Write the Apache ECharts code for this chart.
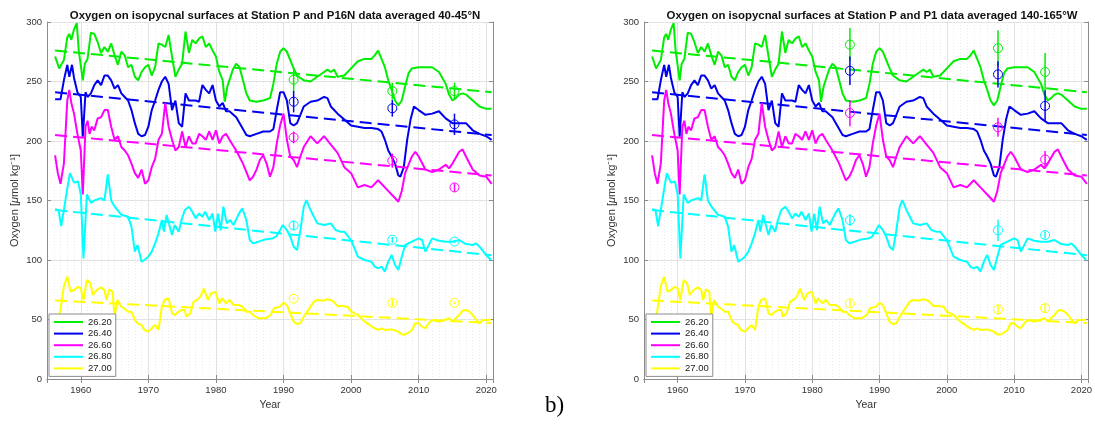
<!DOCTYPE html>
<html>
<head>
<meta charset="utf-8">
<script src="https://cdn.jsdelivr.net/npm/echarts@6/dist/echarts.min.js"></script>
<style>
  html, body { margin: 0; padding: 0; background: #fff; }
  #chart { width: 1095px; height: 435px; }
</style>
</head>
<body>
<div id="chart"></div>
<script>
// isopycnal levels and their colours
const levels = ['26.20', '26.40', '26.60', '26.80', '27.00'];
const levelColors = ['#00ee00', '#0000ee', '#ff00ff', '#00ffff', '#ffff00'];

// Station P smoothed oxygen, [year, umol/kg]
const o2_2620 = [[1956.2,271],[1956.8,261],[1957.5,268],[1958,287],[1958.3,290],[1958.6,285],[1959,294],[1959.4,299],[1959.7,276],[1960.3,251],[1960.6,265],[1961,269],[1961.5,291],[1962,290],[1962.5,283],[1963,274],[1963.5,279],[1964,275],[1964.5,282],[1965,272],[1965.5,264],[1966,275],[1966.5,272],[1967,262],[1967.5,264],[1968,254],[1968.5,251],[1969,258],[1969.5,262],[1970,264],[1970.5,255],[1971,262],[1971.5,282],[1972,281],[1972.5,279],[1973,289],[1973.5,271],[1974,254],[1974.5,260],[1975,265],[1975.5,292],[1976,274],[1976.5,285],[1977,282],[1977.5,286],[1978,288],[1978.5,279],[1979,282],[1979.5,276],[1980,271],[1980.5,258],[1981,251],[1981.3,233],[1981.7,246],[1982.5,260],[1983,265],[1983.5,262],[1984,251],[1984.5,240],[1985,234],[1986,233],[1987,234],[1988,236],[1988.5,248],[1989,265],[1989.5,275],[1990,278],[1990.5,275],[1991,268],[1991.5,261],[1992,255],[1993,251],[1994,250],[1995,254],[1996,258],[1996.5,260],[1997,258],[1997.5,260],[1998,254],[1999,255],[2000,261],[2001,267],[2002,269],[2003,269],[2003.5,272],[2004,276],[2004.5,269],[2005,262],[2005.5,251],[2006,243],[2006.5,234],[2007,230],[2007.5,234],[2008,246],[2008.5,257],[2009,261],[2010,262],[2011,262],[2012,262],[2013,258],[2014,248],[2014.5,239],[2015,234],[2015.5,236],[2016,239],[2016.5,240],[2017,239],[2018,234],[2019,229],[2020,227],[2020.8,227]];
const o2_2640 = [[1956.2,235],[1957,235],[1957.5,251],[1958,264],[1958.3,254],[1958.7,264],[1959,253],[1959.5,241],[1960,237],[1960.3,203.6],[1960.7,241],[1961,237],[1961.5,240],[1962,247],[1962.5,251],[1963,247],[1963.5,255],[1964,255],[1964.5,251],[1965,244],[1965.5,247],[1966,240],[1966.5,237],[1967,234],[1967.5,226],[1968,215],[1968.5,206],[1969,204],[1969.5,205],[1970,212],[1970.5,226],[1971,234],[1971.5,243],[1972,250],[1972.5,254],[1973,248],[1973.5,226],[1974,234],[1974.5,215],[1975,212],[1975.5,240],[1976,234],[1976.5,234],[1977,234],[1977.5,233],[1978,247],[1978.5,243],[1979,240],[1979.5,247],[1980,234],[1980.5,229],[1981,232],[1981.5,225],[1982,225],[1983,220],[1984,210],[1984.5,205],[1985,204],[1986,206],[1987,208],[1988,208],[1988.5,210],[1989,226],[1989.5,241],[1990,241],[1990.5,234],[1991,215],[1991.5,213],[1992,215],[1992.5,222],[1993,229],[1994,233],[1995,234],[1996,237],[1996.5,236],[1997,229],[1998,223],[1999,218],[2000,213],[2001,212],[2002,211],[2003,211],[2004,210],[2004.5,208],[2005,201],[2005.5,192],[2006,187],[2006.5,181],[2007,171],[2007.3,170],[2007.8,178],[2008.3,201],[2008.8,218],[2009.3,229],[2010,226],[2011,222],[2012,223],[2013,225],[2014,219],[2015,215],[2016,215],[2017,215],[2018,209],[2019,206],[2020,204],[2020.8,201]];
const o2_2660 = [[1956.2,188],[1956.6,173],[1957,164],[1957.5,181],[1958,234],[1958.3,243],[1958.6,232],[1959,223],[1959.5,206],[1960,192],[1960.3,155],[1960.7,212],[1961,217],[1961.3,206],[1961.6,212],[1962,209],[1962.5,219],[1963,220],[1963.5,226],[1964,226],[1964.5,212],[1965,201],[1965.5,204],[1966,195],[1966.5,192],[1967,188],[1967.5,181],[1968,173],[1968.5,169],[1969,176],[1969.5,164],[1970,167],[1970.5,178],[1971,185],[1971.5,201],[1972,206],[1972.5,232],[1973,212],[1973.5,201],[1974,192],[1974.5,195],[1975,208],[1975.5,195],[1976,204],[1976.5,198],[1977,198],[1977.5,206],[1978,204],[1978.5,201],[1979,208],[1979.5,201],[1980,209],[1980.5,198],[1981,204],[1981.5,206],[1982,201],[1983,192],[1984,181],[1985,167],[1985.5,170],[1986,176],[1986.5,184],[1987,188],[1987.5,181],[1988,170],[1988.5,178],[1989,198],[1989.5,213],[1990,223],[1990.5,201],[1991,187],[1991.5,184],[1992,178],[1992.5,187],[1993,195],[1994,204],[1995,198],[1996,204],[1997,197],[1998,190],[1999,178],[2000,173],[2001,161],[2002,163],[2003,161],[2004,167],[2005,161],[2006,155],[2007,149],[2007.5,158],[2008,173],[2009,187],[2009.5,191],[2010,187],[2011,176],[2012,174],[2013,176],[2014,180],[2014.5,177],[2015,181],[2016,191],[2016.5,193],[2017,187],[2018,176],[2019,171],[2020,170],[2020.8,164]];
const o2_2680 = [[1956.2,142.6],[1956.7,142],[1957.1,128.5],[1957.5,142],[1958,160],[1958.4,173],[1959,165],[1959.6,166],[1960,155],[1960.4,101.4],[1960.9,155],[1961.5,148],[1962,150],[1963,152],[1963.5,150],[1964,172],[1964.5,150],[1965,145],[1966,138],[1967,136.4],[1967.5,128],[1968,107],[1968.4,112.6],[1969,98.6],[1969.4,100],[1970,102.8],[1970.5,107],[1971,114],[1971.5,122.4],[1972,133.6],[1972.3,123.8],[1972.7,137.8],[1973.5,121],[1973.9,129.4],[1974.5,123.8],[1974.9,133.6],[1975.4,142],[1976,144.8],[1976.5,140.6],[1977,135],[1977.5,139],[1978,136.4],[1978.4,140.6],[1979,133.6],[1979.5,139.2],[1979.9,123.8],[1980.3,139],[1980.7,125],[1981.1,144.8],[1981.6,130.8],[1982.1,133.6],[1982.6,129.4],[1983.4,139],[1983.9,143.4],[1984.5,133.6],[1985,116.8],[1985.5,114],[1986.3,115.4],[1987.3,117.3],[1988.3,118],[1988.9,119.6],[1989.5,125.2],[1989.9,129.4],[1990.5,125.2],[1991,119.6],[1991.5,111.2],[1992,108.4],[1992.5,125],[1993,144.8],[1993.4,150.4],[1994,142],[1994.5,136.4],[1995,130.8],[1996,129.4],[1997,130.8],[1997.7,125.2],[1998.4,123.8],[1999,123.8],[2000,116.8],[2001,102.8],[2002,100],[2003,98.6],[2003.5,94.4],[2004,93],[2004.5,94.4],[2005,90.2],[2005.5,98.6],[2006,104.2],[2006.5,95.8],[2007,91.6],[2007.5,102.8],[2008,112.6],[2009,115.4],[2010,118.2],[2010.5,116.8],[2011,107],[2012,118.2],[2013,116.2],[2014,115.4],[2015,115.4],[2016,116.8],[2017,113.4],[2018,112.6],[2018.5,114],[2019,111.2],[2020,104.2],[2020.7,100]];
const o2_2700 = [[1956.2,50],[1956.7,52],[1957,58],[1957.5,78],[1958,86],[1958.5,73.4],[1959,74.8],[1959.6,77.6],[1960,76],[1960.4,66.4],[1960.9,83.2],[1961.4,80.4],[1961.8,70.6],[1962.4,74.8],[1963,77],[1963.5,74.8],[1963.8,66.4],[1964.2,75.3],[1964.7,73.4],[1965,52.4],[1965.4,66.4],[1966,60.8],[1966.4,59.4],[1967,56.6],[1967.5,56.6],[1968,49.6],[1968.4,46.8],[1969,45.4],[1969.4,41.2],[1970,39.8],[1970.5,42.6],[1971,45.4],[1971.5,41.2],[1972,60.8],[1972.4,66.4],[1973,67.8],[1973.5,55.2],[1973.9,53.8],[1974.5,56.6],[1974.9,58],[1975.4,58],[1975.6,52.4],[1976.2,55.2],[1976.7,65],[1977.2,66.4],[1977.7,69.2],[1978.2,76],[1978.8,66.4],[1979.3,72],[1979.9,73.4],[1980.5,63.6],[1980.9,67.8],[1981.5,63.6],[1982,66.4],[1982.6,62.2],[1983.4,62.2],[1983.9,60.8],[1984.5,56.6],[1985,56.6],[1985.5,53.8],[1986.3,51],[1987.3,51],[1988.1,53.8],[1988.6,59.4],[1989.5,60.8],[1990,64.1],[1990.5,62.2],[1991,55.2],[1991.5,48.2],[1992,46.2],[1992.5,46.8],[1993,52.4],[1994,60.8],[1994.5,65],[1995,66.4],[1996,65.8],[1996.4,67],[1997,66.4],[1997.4,65],[1998,61.3],[1998.7,61.3],[1999.5,60.8],[2000,56.6],[2001,53.8],[2002,48.2],[2003,44.5],[2003.5,42.6],[2004,41.2],[2004.5,42.6],[2005,41.2],[2006,41.7],[2007,39.8],[2007.5,37.5],[2008,37.5],[2008.5,38.9],[2009,41.2],[2009.5,46.8],[2010,46.8],[2010.5,44],[2011,42.6],[2011.5,46.8],[2012,49.6],[2013,48.2],[2013.5,49],[2014,50],[2014.5,51],[2015,48.2],[2015.5,51],[2016,53.8],[2016.5,57.4],[2017,58],[2017.5,56.6],[2018,53.8],[2018.5,50],[2019,46.8],[2019.5,49.6],[2020.2,49.6],[2020.7,50]];
const stationP = [o2_2620, o2_2640, o2_2660, o2_2680, o2_2700];

// linear trends (dashed)
const trendYears = [1956.2, 2020.8];
const trendStart = [276, 241, 205, 142, 66];
const trendEnd = [241, 205, 171, 104, 47];

// ship sections: rows follow levels, columns follow the years
const p16nYears = [1991.5, 2006.1, 2015.3];
const p16nObs = [[251.5, 242, 242], [233, 227.5, 214], [203, 183.5, 161], [129, 117, 115.5], [67.5, 64, 64]];
const p16nErr = [[10, 7, 7], [9, 7, 9], [5, 6, 3.5], [4, 2.5, 1], [1, 3, 1]];
const p1Years = [1985.6, 2007.6, 2014.6];
const p1Obs = [[281, 278, 258], [259, 256, 229.5], [223.5, 211.5, 184.5], [133.5, 125, 121], [63.5, 58.5, 59.5]];
const p1Err = [[14, 15, 16], [12, 11, 13], [11, 8, 7], [5, 9, 3], [3, 4, 4]];

const titles = [
  'Oxygen on isopycnal surfaces at Station P and P16N data averaged 40-45°N',
  'Oxygen on isopycnal surfaces at Station P and P1 data averaged 140-165°W'
];

const axisColor = '#8c8c8c';
const labelColor = '#333';
const fontFamily = 'Helvetica, Arial, "Liberation Sans", sans-serif';

const grids = [
  {left: 47, right: 602, top: 22, bottom: 56},
  {left: 644, right: 4, top: 22, bottom: 56}
];

function bottomAxis(g) {
  return {
    type: 'value', gridIndex: g, min: 1955, max: 2021,
    splitNumber: 7, minInterval: 10, maxInterval: 10,
    name: 'Year', nameLocation: 'middle', nameGap: 21,
    nameTextStyle: {color: labelColor, fontSize: 10.5, fontFamily},
    axisLine: {show: true, lineStyle: {color: axisColor}},
    axisTick: {inside: true, length: 4, lineStyle: {color: axisColor}},
    axisLabel: {color: labelColor, fontSize: 9.5, fontFamily, margin: 6,
      showMinLabel: false, showMaxLabel: false, formatter: v => String(v)},
    splitLine: {show: true, lineStyle: {color: '#e2e2e2'}},
    minorTick: {show: false, splitNumber: 10},
    minorSplitLine: {show: true, lineStyle: {color: '#ececec', type: [1, 2]}}
  };
}

function topAxis(g) {
  return {
    type: 'value', gridIndex: g, position: 'top', min: 1955, max: 2021,
    splitNumber: 7, minInterval: 10, maxInterval: 10,
    axisLine: {show: true, lineStyle: {color: axisColor}},
    axisTick: {inside: true, length: 4, lineStyle: {color: axisColor}},
    axisLabel: {show: false}, splitLine: {show: false}
  };
}

function leftAxis(g) {
  return {
    type: 'value', gridIndex: g, min: 0, max: 300, interval: 50,
    name: 'Oxygen [{i|μ}mol kg⁻¹]', nameLocation: 'middle', nameGap: 27,
    nameTextStyle: {color: labelColor, fontSize: 11, fontFamily,
      rich: {i: {fontStyle: 'italic', fontSize: 11, fontFamily, color: labelColor}}},
    axisLine: {show: true, lineStyle: {color: axisColor}},
    axisTick: {inside: true, length: 4, lineStyle: {color: axisColor}},
    axisLabel: {color: labelColor, fontSize: 9.5, fontFamily, margin: 5},
    splitLine: {show: true, lineStyle: {color: '#e2e2e2'}}
  };
}

function rightAxis(g) {
  return {
    type: 'value', gridIndex: g, position: 'right', min: 0, max: 300, interval: 50,
    axisLine: {show: true, lineStyle: {color: axisColor}},
    axisTick: {inside: true, length: 4, lineStyle: {color: axisColor}},
    axisLabel: {show: false}, splitLine: {show: false}
  };
}

function panelSeries(g, obsYears, obs, err) {
  const out = [];
  levels.forEach((lev, i) => {
    const color = levelColors[i];
    out.push({
      name: lev, type: 'line', xAxisIndex: g, yAxisIndex: g,
      data: stationP[i], symbol: 'none', smooth: false,
      lineStyle: {color, width: 2}, itemStyle: {color}, z: 3
    });
    out.push({
      name: lev + ' trend', type: 'line', xAxisIndex: g, yAxisIndex: g,
      data: [[trendYears[0], trendStart[i]], [trendYears[1], trendEnd[i]]],
      symbol: 'none', lineStyle: {color, width: 2, type: [12, 6]}, z: 3, silent: true
    });
    out.push({
      name: lev + ' bars', type: 'custom', xAxisIndex: g, yAxisIndex: g, z: 4, silent: true,
      data: obsYears.map((yr, j) => [yr, obs[i][j] - err[i][j], obs[i][j] + err[i][j]]),
      renderItem: (params, api) => {
        const p0 = api.coord([api.value(0), api.value(1)]);
        const p1 = api.coord([api.value(0), api.value(2)]);
        return {
          type: 'line',
          shape: {x1: p0[0], y1: p0[1], x2: p1[0], y2: p1[1]},
          style: {stroke: color, lineWidth: 1.5}
        };
      }
    });
    out.push({
      name: lev + ' obs', type: 'scatter', xAxisIndex: g, yAxisIndex: g, z: 4, silent: true,
      data: obsYears.map((yr, j) => [yr, obs[i][j]]),
      symbol: 'circle', symbolSize: 9,
      itemStyle: {color: 'rgba(0,0,0,0)', borderColor: color, borderWidth: 1, opacity: 1},
      emphasis: {disabled: true}
    });
  });
  return out;
}

const chart = echarts.init(document.getElementById('chart'), null, {renderer: 'canvas'});

const legendBase = {
  orient: 'vertical', top: 314, data: levels,
  itemWidth: 29, itemHeight: 10, itemGap: 1.6,
  padding: [3, 4, 3, 4],
  borderColor: axisColor, borderWidth: 1, backgroundColor: '#fff',
  itemStyle: {opacity: 0},
  textStyle: {fontSize: 9.5, fontFamily, color: '#222'},
  selectedMode: false
};

chart.setOption({
  animation: false,
  backgroundColor: '#fff',
  title: titles.map((t, g) => ({
    text: t,
    left: g === 0 ? 270 : 867, top: 5, textAlign: 'center',
    textStyle: {fontSize: 11.4, fontWeight: 'bold', fontFamily, color: '#111'}
  })),
  legend: [
    Object.assign({}, legendBase, {left: 49}),
    Object.assign({}, legendBase, {left: 646})
  ],
  grid: grids,
  xAxis: [bottomAxis(0), bottomAxis(1), topAxis(0), topAxis(1)],
  yAxis: [leftAxis(0), leftAxis(1), rightAxis(0), rightAxis(1)],
  series: panelSeries(0, p16nYears, p16nObs, p16nErr)
    .concat(panelSeries(1, p1Years, p1Obs, p1Err)),
  graphic: [{
    type: 'text', left: 545, top: 394, silent: true,
    style: {text: 'b)', font: '23px "Liberation Serif", "Times New Roman", serif', fill: '#000'}
  }]
});

window.addEventListener('resize', () => {
  if (chart) {
    chart.resize();
  }
});
</script>
</body>
</html>
